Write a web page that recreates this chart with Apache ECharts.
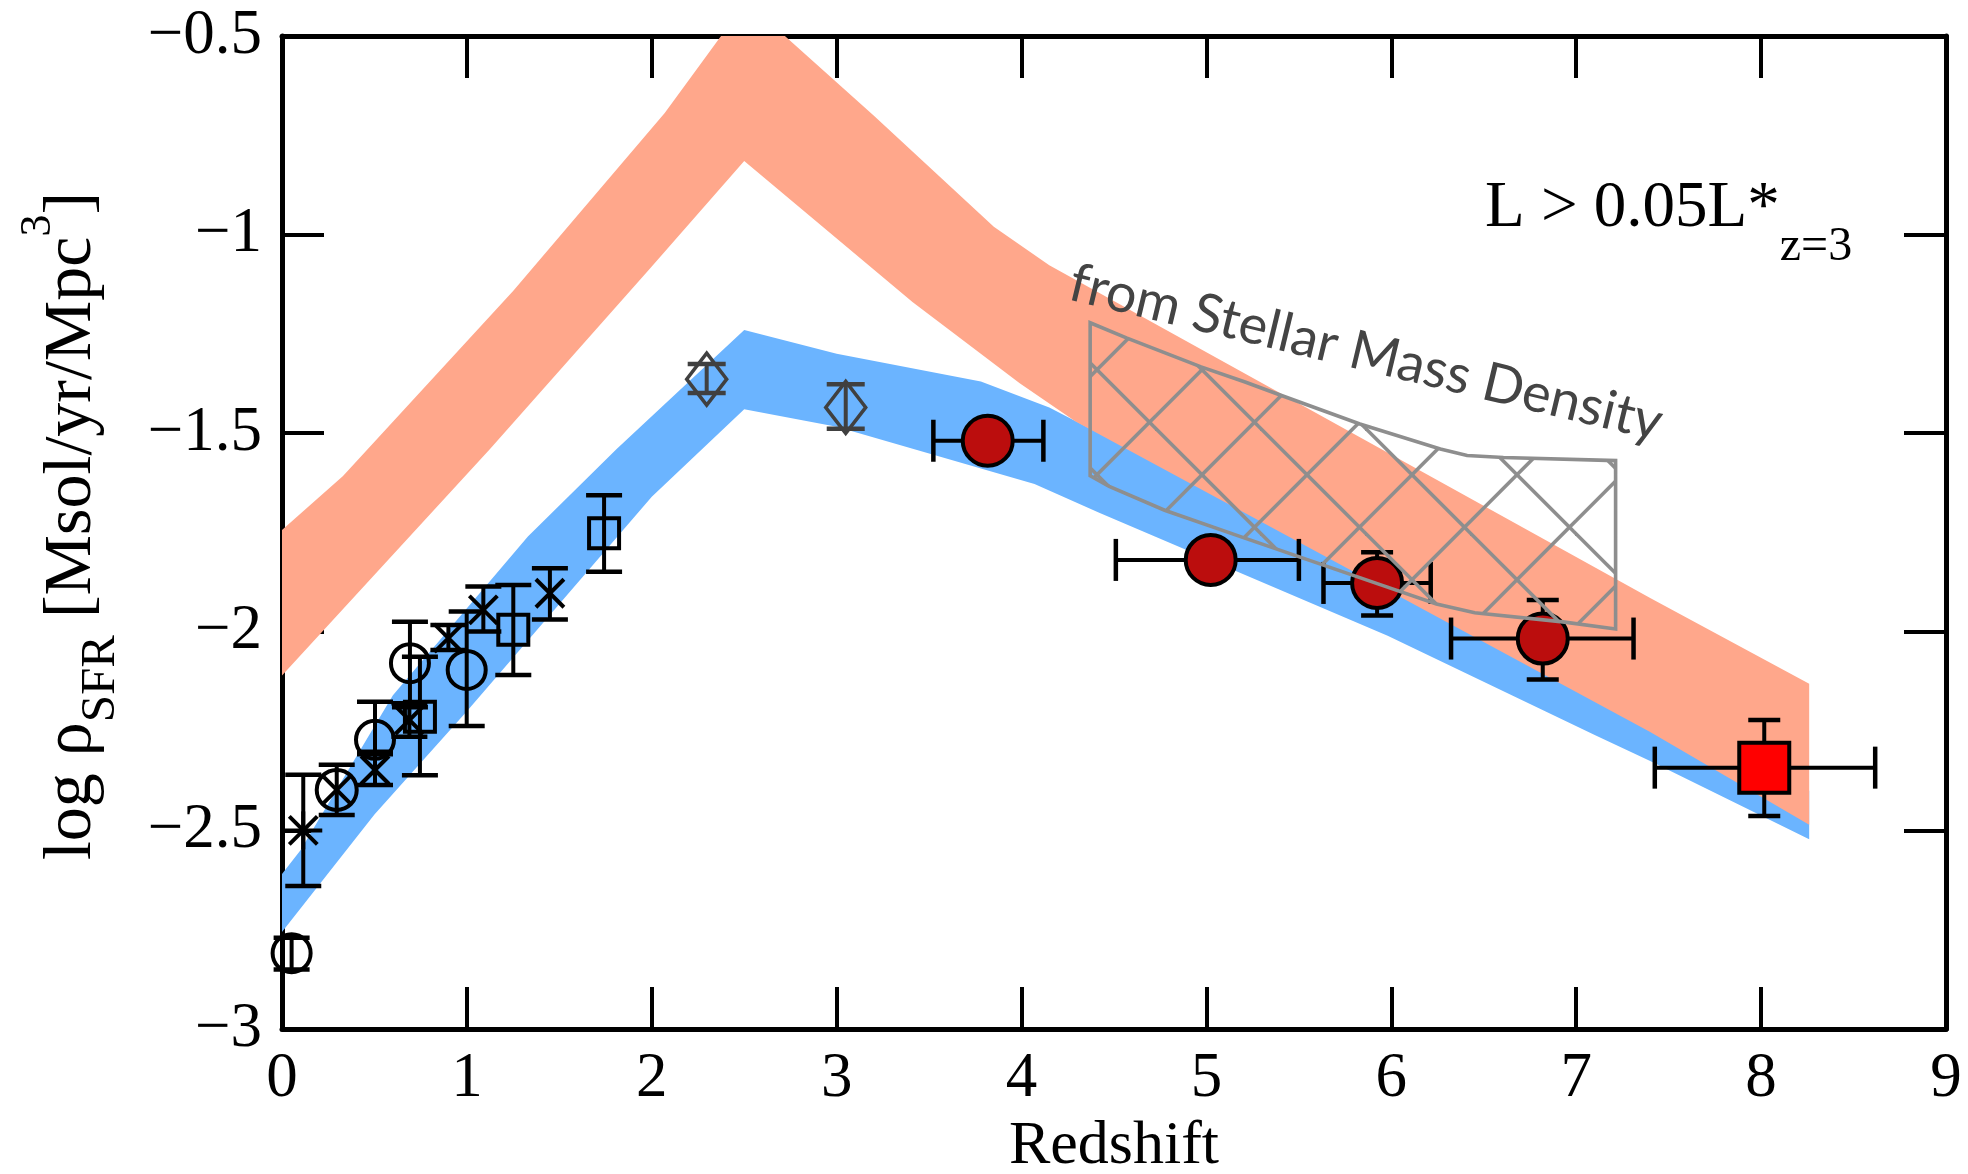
<!DOCTYPE html>
<html><head><meta charset="utf-8">
<script src="https://cdn.jsdelivr.net/npm/echarts@6/dist/echarts.min.js"></script>
<style>html,body{margin:0;padding:0;background:#fff;}#c{width:1968px;height:1174px;}</style>
</head><body><div id="c"></div>
<script>
// ---------------- data ----------------
const xTickValues = [0,1,2,3,4,5,6,7,8,9];
const yTickValues = [-3,-2.5,-2,-1.5,-1,-0.5];

// model bands: [redshift, log rho]
const blueUpper = [[0,-2.61],[0.1,-2.55],[0.6,-2.16],[1.33,-1.76],[1.81,-1.54],[2.5,-1.24],[3.0,-1.30],[3.78,-1.37],[4.15,-1.435],[5.0,-1.64],[6.0,-1.87],[7.0,-2.10],[8.26,-2.40]];
const blueLower = [[0,-2.756],[0.5,-2.46],[1.0,-2.20],[1.5,-1.93],[2.0,-1.66],[2.5,-1.44],[3.0,-1.484],[4.07,-1.628],[4.42,-1.70],[5.98,-2.01],[7.10,-2.26],[7.4,-2.325],[8.26,-2.522]];
const salmonUpper = [[0,-1.744],[0.33,-1.608],[1.25,-1.142],[2.07,-0.694],[2.26,-0.573],[2.5,-0.42],[2.72,-0.5],[3.2,-0.70],[3.85,-0.98],[4.15,-1.077],[7.4,-1.915],[8.26,-2.131]];
const salmonLower = [[0,-2.11],[1.125,-1.54],[2.0,-1.08],[2.5,-0.815],[3.41,-1.17],[3.61,-1.24],[3.99,-1.374],[4.29,-1.47],[7.4,-2.252],[8.26,-2.486]];

// stellar mass density region
const smdTop = [[4.371,-1.222],[4.567,-1.260],[4.971,-1.333],[5.209,-1.371],[5.406,-1.405],[5.83,-1.477],[6.265,-1.540],[6.41,-1.556],[6.606,-1.561],[7.213,-1.569]];
const smdBottom = [[7.213,-1.993],[6.927,-1.975],[6.451,-1.952],[6.244,-1.930],[5.975,-1.887],[5.188,-1.761],[4.774,-1.694],[4.474,-1.634],[4.371,-1.607]];

// points: [z, logrho, errLow, errHigh]
const asteriskPts = [[0.115,-2.50,-2.64,-2.36]];
const openCirclePts = [[0.052,-2.809,-2.85,-2.77],[0.503,-2.272,-2.302,-2.176],[0.692,-2.079,-2.19,-1.975],[0.999,-2.096,-2.237,-1.949]];
const circleCrossPts = [[0.296,-2.398,-2.461,-2.335]];
const crossPts = [[0.503,-2.348,-2.386,-2.308],[0.689,-2.222,-2.264,-2.18],[0.90,-2.016,-2.046,-1.983],[1.089,-1.945,-1.999,-1.886],[1.449,-1.903,-1.969,-1.840]];
const squarePts = [[0.746,-2.214,-2.361,-2.063],[1.251,-1.995,-2.109,-1.882],[1.742,-1.752,-1.849,-1.656]];
const diamondPts = [[2.297,-1.364,-1.399,-1.326],[3.049,-1.435,-1.489,-1.377]];
// [z, logrho, errLow, errHigh, zLow, zHigh]
const redCirclePts = [[3.817,-1.519,-1.55,-1.49,3.523,4.118],[5.023,-1.819,-1.86,-1.78,4.51,5.50],[5.923,-1.877,-1.959,-1.80,5.633,6.213],[6.819,-2.017,-2.120,-1.920,6.323,7.310]];
const redSquarePts = [[8.017,-2.342,-2.464,-2.222,7.425,8.617]];

// ---------------- drawing ----------------
const SERIF = '"Liberation Serif","Times New Roman",serif';
const chart = echarts.init(document.getElementById('c'), null, {renderer:'canvas'});

function hatchTile(s, c1, c2, color, lw) {
  const cv = document.createElement('canvas'); cv.width = s; cv.height = s;
  const g = cv.getContext('2d'); g.strokeStyle = color; g.lineWidth = lw;
  for (let k = -3; k <= 3; k++) {
    g.beginPath(); g.moveTo(-s, -s + c1 + k*s); g.lineTo(2*s, 2*s + c1 + k*s); g.stroke();
    g.beginPath(); g.moveTo(-s, s + c2 + k*s); g.lineTo(2*s, -2*s + c2 + k*s); g.stroke();
  }
  return cv;
}
const hatch = hatchTile(105, 7.7, 101.7, '#8e8e8e', 3.6);

function bandSeries(upper, lower, color, z) {
  return {
    type:'custom', coordinateSystem:'cartesian2d', clip:true, z:z, silent:true,
    data:[[upper[0][0], upper[0][1]]],
    renderItem:function(params, api){
      const pts = upper.map(p=>api.coord(p)).concat(lower.slice().reverse().map(p=>api.coord(p)));
      return {type:'polygon', shape:{points:pts}, style:{fill:color, stroke:null}};
    }
  };
}

function line(a, b, color, lw) {
  return {type:'line', shape:{x1:a[0],y1:a[1],x2:b[0],y2:b[1]}, style:{stroke:color, lineWidth:lw, fill:'none'}};
}

function markerSeries(data, kind, z) {
  return {
    type:'custom', coordinateSystem:'cartesian2d', clip:false, z:z, silent:true,
    dimensions:['z','v','lo','hi','zlo','zhi'], encode:{x:0, y:1},
    data:data,
    renderItem:function(params, api){
      const zz = api.value(0), v = api.value(1), lo = api.value(2), hi = api.value(3);
      const zlo = api.value(4), zhi = api.value(5);
      const c = api.coord([zz, v]);
      const gray = '#404040', blk = '#000';
      const ecol = kind === 'diamond' ? gray : blk;
      const capW = kind === 'diamond' ? 38 : (kind.indexOf('red') === 0 ? 32 : 36);
      const ch = [];
      if (!isNaN(lo) && !isNaN(hi)) {
        const a = api.coord([zz, lo]), b = api.coord([zz, hi]);
        ch.push(line(a, b, ecol, 4));
        ch.push(line([a[0]-capW/2, a[1]], [a[0]+capW/2, a[1]], ecol, 4.5));
        ch.push(line([b[0]-capW/2, b[1]], [b[0]+capW/2, b[1]], ecol, 4.5));
      }
      if (!isNaN(zlo) && !isNaN(zhi)) {
        const a = api.coord([zlo, v]), b = api.coord([zhi, v]);
        ch.push(line(a, b, blk, 4));
        ch.push(line([a[0], a[1]-21], [a[0], a[1]+21], blk, 4.5));
        ch.push(line([b[0], b[1]-21], [b[0], b[1]+21], blk, 4.5));
      }
      const x = c[0], y = c[1];
      if (kind === 'circle') {
        ch.push({type:'circle', shape:{cx:x, cy:y, r:19}, style:{fill:'none', stroke:blk, lineWidth:4}});
      } else if (kind === 'circlecross') {
        ch.push({type:'circle', shape:{cx:x, cy:y, r:20}, style:{fill:'none', stroke:blk, lineWidth:4}});
        ch.push(line([x-13,y-13],[x+13,y+13], blk, 4));
        ch.push(line([x-13,y+13],[x+13,y-13], blk, 4));
      } else if (kind === 'square') {
        ch.push({type:'rect', shape:{x:x-15, y:y-15, width:30, height:30}, style:{fill:'none', stroke:blk, lineWidth:4}});
      } else if (kind === 'cross') {
        ch.push(line([x-14,y-14],[x+14,y+14], blk, 4));
        ch.push(line([x-14,y+14],[x+14,y-14], blk, 4));
      } else if (kind === 'asterisk') {
        ch.push(line([x-14,y-14],[x+14,y+14], blk, 4));
        ch.push(line([x-14,y+14],[x+14,y-14], blk, 4));
        ch.push(line([x-19,y],[x+19,y], blk, 4));
        ch.push(line([x,y-19],[x,y+19], blk, 4));
      } else if (kind === 'diamond') {
        ch.push({type:'polygon', shape:{points:[[x,y-26],[x+20,y],[x,y+26],[x-20,y]]}, style:{fill:'none', stroke:gray, lineWidth:3.5}});
      } else if (kind === 'redcircle') {
        ch.push({type:'circle', shape:{cx:x, cy:y, r:25}, style:{fill:'#BB0D0D', stroke:blk, lineWidth:4}});
      } else if (kind === 'redsquare') {
        ch.push({type:'rect', shape:{x:x-25, y:y-25, width:50, height:50}, style:{fill:'#FF0000', stroke:blk, lineWidth:4}});
      }
      return {type:'group', children:ch};
    }
  };
}

const smdSeries = {
  type:'custom', coordinateSystem:'cartesian2d', clip:true, z:20, silent:true,
  data:[[smdTop[0][0], smdTop[0][1]]],
  renderItem:function(params, api){
    const pts = smdTop.concat(smdBottom).map(p=>api.coord(p));
    return {type:'polygon', shape:{points:pts}, style:{fill:{image:hatch, repeat:'repeat'}, stroke:'#8e8e8e', lineWidth:3.6, lineJoin:'miter'}};
  }
};

const fmtY = v => String(v).replace('-', '\u2212');
const axisCommon = {
  type:'value', splitLine:{show:false},
  axisLine:{show:true, onZero:false, lineStyle:{color:'#000', width:5}},
  axisTick:{show:true, inside:true, length:42, lineStyle:{color:'#000', width:4}}
};

const option = {
  animation:false,
  backgroundColor:'#fff',
  grid:{left:282, right:22, top:36, bottom:145, containLabel:false, outerBoundsMode:'none'},
  xAxis:[
    Object.assign({}, axisCommon, {min:0, max:9, interval:1, position:'bottom',
      axisLabel:{fontFamily:SERIF, fontSize:63, color:'#000', margin:19},
      name:'Redshift', nameLocation:'middle', nameGap:81,
      nameTextStyle:{fontFamily:SERIF, fontSize:62, color:'#000'}}),
    Object.assign({}, axisCommon, {min:0, max:9, interval:1, position:'top', axisLabel:{show:false}})
  ],
  yAxis:[
    Object.assign({}, axisCommon, {min:-3, max:-0.5, interval:0.5, position:'left',
      axisLabel:{fontFamily:SERIF, fontSize:63, color:'#000', margin:20, formatter:fmtY}}),
    Object.assign({}, axisCommon, {min:-3, max:-0.5, interval:0.5, position:'right', axisLabel:{show:false}})
  ],
  graphic:[
    {type:'text', x:126, y:526, rotation:Math.PI/2, z:100,
      style:{text:'{m|log \u03c1}{s|SFR}{m| [Msol/yr/Mpc}{p|3}{m|]}', align:'center', verticalAlign:'bottom', fill:'#000',
        rich:{
          m:{fontFamily:SERIF, fontSize:68, lineHeight:68, verticalAlign:'bottom', padding:[0,0,20,0], fill:'#000'},
          s:{fontFamily:SERIF, fontSize:49, lineHeight:49, verticalAlign:'bottom', padding:[0,0,0,0], fill:'#000'},
          p:{fontFamily:SERIF, fontSize:44, lineHeight:44, verticalAlign:'bottom', padding:[0,0,66,0], fill:'#000'}
        }}},
    {type:'text', x:1485, y:271, z:100,
      style:{text:'{m|L > 0.05L*}{s|z=3}', align:'left', verticalAlign:'bottom', fill:'#000',
        rich:{
          m:{fontFamily:SERIF, fontSize:65, lineHeight:65, verticalAlign:'bottom', padding:[0,0,30,0], fill:'#000'},
          s:{fontFamily:SERIF, fontSize:48, lineHeight:48, verticalAlign:'bottom', padding:[0,0,0,0], fill:'#000'}
        }}},
    {type:'text', x:1366, y:353, rotation:-13.5*Math.PI/180, z:100,
      style:{text:'from Stellar Mass Density', fontFamily:'Lato, "Open Sans", sans-serif', fontSize:54, fill:'#444444', align:'center', verticalAlign:'middle'}}
  ],
  series:[
    bandSeries(blueUpper, blueLower, '#6BB4FF', 1),
    bandSeries(salmonUpper, salmonLower, '#FFA78B', 2),
    markerSeries(openCirclePts, 'circle', 10),
    markerSeries(circleCrossPts, 'circlecross', 10),
    markerSeries(squarePts, 'square', 10),
    markerSeries(crossPts, 'cross', 10),
    markerSeries(asteriskPts, 'asterisk', 10),
    markerSeries(diamondPts, 'diamond', 10),
    markerSeries(redCirclePts, 'redcircle', 11),
    markerSeries(redSquarePts, 'redsquare', 11),
    smdSeries
  ]
};
chart.setOption(option);
</script>
</body></html>
